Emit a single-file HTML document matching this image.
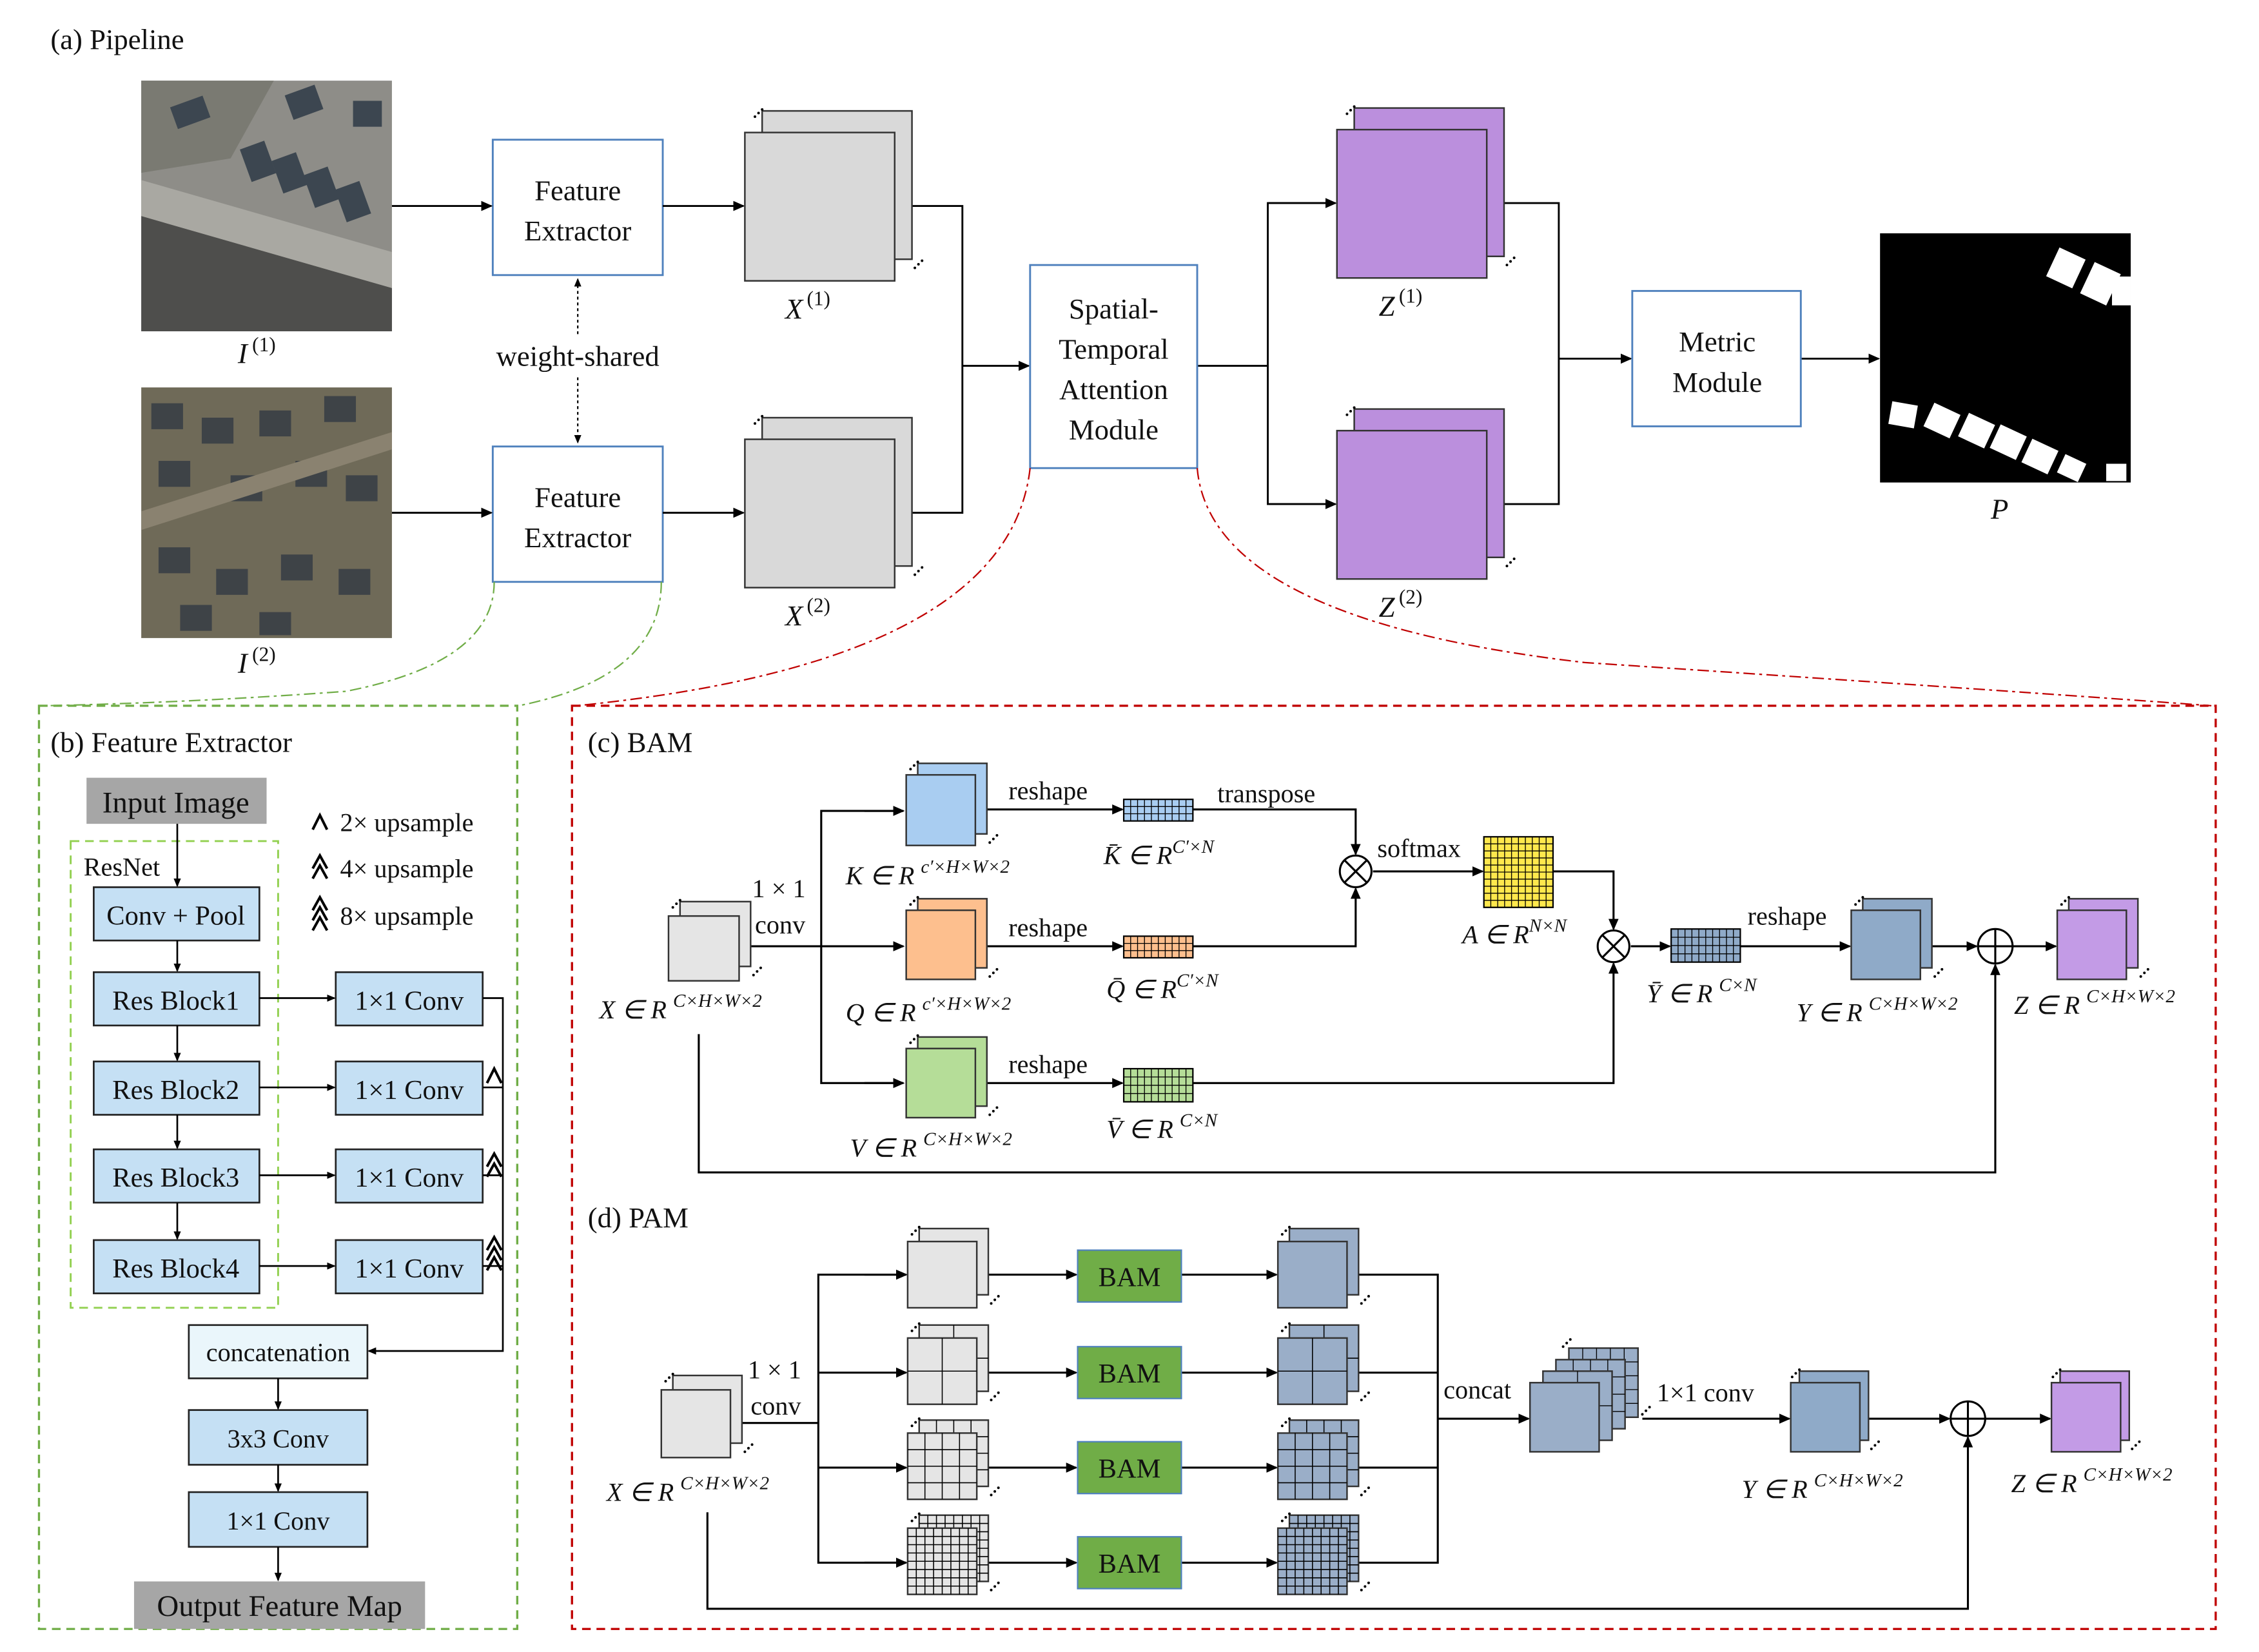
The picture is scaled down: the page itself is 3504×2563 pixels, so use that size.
<!DOCTYPE html>
<html><head><meta charset="utf-8"><style>
html,body{margin:0;padding:0;background:#fff;}
svg{display:block;}
text{font-family:"Liberation Serif",serif;fill:#111;}
.m{font-style:italic;}
</style></head><body>
<svg id="s" width="3504" height="2563" viewBox="0 0 1568 1147" xmlns="http://www.w3.org/2000/svg">
<defs>
<marker id="ar" markerWidth="8" markerHeight="8" refX="7" refY="4" orient="auto" markerUnits="userSpaceOnUse"><path d="M0,0.5 L8,4 L0,7.5 Z" fill="#000"/></marker>
<marker id="ar2" markerWidth="6" markerHeight="6" refX="5" refY="3" orient="auto-start-reverse" markerUnits="userSpaceOnUse"><path d="M0,0.5 L6,3 L0,5.5 Z" fill="#000"/></marker>
</defs>
<rect width="1568" height="1147" fill="#fff"/>

<!-- (a) -->
<text x="35" y="34" font-size="20">(a) Pipeline</text>
<g>
<rect x="98" y="56" width="174" height="174" fill="#8e8d88"/>
<polygon points="98,150 272,200 272,230 98,230" fill="#4e4e4c"/>
<polygon points="98,125 272,175 272,200 98,150" fill="#a9a8a2"/>
<polygon points="98,56 190,56 160,110 98,120" fill="#7a7a72"/>
<g fill="#3c4650">
<rect x="170" y="100" width="18" height="24" transform="rotate(-20 179 112)"/>
<rect x="192" y="108" width="18" height="24" transform="rotate(-20 201 120)"/>
<rect x="214" y="118" width="18" height="24" transform="rotate(-20 223 130)"/>
<rect x="236" y="128" width="18" height="24" transform="rotate(-20 245 140)"/>
<rect x="200" y="62" width="22" height="18" transform="rotate(-20 211 71)"/>
<rect x="245" y="70" width="20" height="18"/>
<rect x="120" y="70" width="24" height="16" transform="rotate(-20 132 78)"/>
</g>
</g>
<text x="165" y="252" font-size="20" class="m">I</text><text x="175" y="244" font-size="14">(1)</text>
<g>
<rect x="98" y="269" width="174" height="174" fill="#6f6a58"/>
<g fill="#3e4347">
<rect x="105" y="280" width="22" height="18"/><rect x="140" y="290" width="22" height="18"/><rect x="180" y="285" width="22" height="18"/><rect x="225" y="275" width="22" height="18"/>
<rect x="110" y="320" width="22" height="18"/><rect x="160" y="330" width="22" height="18"/><rect x="205" y="320" width="22" height="18"/><rect x="240" y="330" width="22" height="18"/>
<rect x="110" y="380" width="22" height="18"/><rect x="150" y="395" width="22" height="18"/><rect x="195" y="385" width="22" height="18"/><rect x="235" y="395" width="22" height="18"/>
<rect x="125" y="420" width="22" height="18"/><rect x="180" y="425" width="22" height="16"/>
</g>
<polygon points="98,355 272,300 272,312 98,368" fill="#8a8270"/>
</g>
<text x="165" y="467" font-size="20" class="m">I</text><text x="175" y="459" font-size="14">(2)</text>

<rect x="342" y="97" width="118" height="94" fill="#fff" stroke="#4f81bd" stroke-width="1.3"/>
<text x="401" y="139" font-size="20" text-anchor="middle">Feature</text>
<text x="401" y="167" font-size="20" text-anchor="middle">Extractor</text>
<rect x="342" y="310" width="118" height="94" fill="#fff" stroke="#4f81bd" stroke-width="1.3"/>
<text x="401" y="352" font-size="20" text-anchor="middle">Feature</text>
<text x="401" y="380" font-size="20" text-anchor="middle">Extractor</text>
<line x1="401" y1="194" x2="401" y2="232" stroke="#000" stroke-dasharray="2,2" marker-start="url(#ar2)"/>
<line x1="401" y1="262" x2="401" y2="307" stroke="#000" stroke-dasharray="2,2" marker-end="url(#ar2)"/>
<text x="401" y="254" font-size="20" text-anchor="middle">weight-shared</text>
<g stroke="#000" stroke-width="1.3" fill="none">
<line x1="272" y1="143" x2="341" y2="143" marker-end="url(#ar)"/>
<line x1="272" y1="356" x2="341" y2="356" marker-end="url(#ar)"/>
<line x1="460" y1="143" x2="516" y2="143" marker-end="url(#ar)"/>
<line x1="460" y1="356" x2="516" y2="356" marker-end="url(#ar)"/>
<polyline points="632,143 668,143 668,356 632,356"/>
<line x1="668" y1="254" x2="714" y2="254" marker-end="url(#ar)"/>
<line x1="831" y1="254" x2="880" y2="254"/>
<polyline points="926,141 880,141 880,350 926,350"/>
<line x1="880" y1="141" x2="927" y2="141" marker-end="url(#ar)"/>
<line x1="880" y1="350" x2="927" y2="350" marker-end="url(#ar)"/>
<polyline points="1043,141 1082,141 1082,350 1043,350"/>
<line x1="1082" y1="249" x2="1132" y2="249" marker-end="url(#ar)"/>
<line x1="1250" y1="249" x2="1304" y2="249" marker-end="url(#ar)"/>
</g>
<text x="545" y="221" font-size="20" class="m">X</text><text x="560" y="212" font-size="14">(1)</text>
<text x="545" y="434" font-size="20" class="m">X</text><text x="560" y="425" font-size="14">(2)</text>
<text x="957" y="219" font-size="20" class="m">Z</text><text x="971" y="210" font-size="14">(1)</text>
<text x="957" y="428" font-size="20" class="m">Z</text><text x="971" y="419" font-size="14">(2)</text>

<rect x="715" y="184" width="116" height="141" fill="#fff" stroke="#4f81bd" stroke-width="1.3"/>
<text x="773" y="221" font-size="20" text-anchor="middle">Spatial-</text>
<text x="773" y="249" font-size="20" text-anchor="middle">Temporal</text>
<text x="773" y="277" font-size="20" text-anchor="middle">Attention</text>
<text x="773" y="305" font-size="20" text-anchor="middle">Module</text>
<rect x="1133" y="202" width="117" height="94" fill="#fff" stroke="#4f81bd" stroke-width="1.3"/>
<text x="1192" y="244" font-size="20" text-anchor="middle">Metric</text>
<text x="1192" y="272" font-size="20" text-anchor="middle">Module</text>
<rect x="1305" y="162" width="174" height="173" fill="#000"/>
<g fill="#fff">
<rect x="1424" y="175" width="20" height="22" transform="rotate(25 1434 186)"/>
<rect x="1448" y="185" width="20" height="24" transform="rotate(25 1458 197)"/>
<rect x="1466" y="192" width="13" height="20"/>
<rect x="1312" y="280" width="18" height="16" transform="rotate(10 1321 288)"/>
<rect x="1338" y="283" width="20" height="18" transform="rotate(25 1348 292)"/>
<rect x="1362" y="290" width="20" height="18" transform="rotate(25 1372 299)"/>
<rect x="1384" y="298" width="20" height="18" transform="rotate(25 1394 307)"/>
<rect x="1406" y="308" width="20" height="18" transform="rotate(25 1416 317)"/>
<rect x="1430" y="318" width="16" height="14" transform="rotate(25 1438 325)"/>
<rect x="1462" y="322" width="14" height="12"/>
</g>
<text x="1388" y="360" font-size="20" class="m" text-anchor="middle">P</text>

<g fill="none" stroke-width="1" stroke-dasharray="8,3,2,3">
<path d="M343,404 Q343,460 240,480 Q130,488 30,490" stroke="#70ad47"/>
<path d="M459,404 Q459,470 360,490" stroke="#70ad47"/>
<path d="M715,325 Q700,460 400,490" stroke="#c00000"/>
<path d="M831,325 Q840,430 1100,460 Q1400,480 1535,490" stroke="#c00000"/>
</g>

<!-- (b) -->
<rect x="27" y="490" width="332" height="641" fill="none" stroke="#70ad47" stroke-width="1.5" stroke-dasharray="6,4"/>
<text x="35" y="522" font-size="20">(b) Feature Extractor</text>
<rect x="60" y="540" width="125" height="32" fill="#a6a6a6"/>
<text x="122" y="564" font-size="21" text-anchor="middle">Input Image</text>
<rect x="49" y="584" width="144" height="324" fill="none" stroke="#92d050" stroke-width="1.3" stroke-dasharray="6,4"/>
<text x="58" y="608" font-size="18">ResNet</text>
<g stroke="#222" stroke-width="1.2" fill="#c5e0f4">
<rect x="65" y="616" width="115" height="37"/>
<rect x="65" y="675" width="115" height="37"/>
<rect x="65" y="737" width="115" height="37"/>
<rect x="65" y="798" width="115" height="37"/>
<rect x="65" y="861" width="115" height="37"/>
<rect x="233" y="675" width="102" height="37"/>
<rect x="233" y="737" width="102" height="37"/>
<rect x="233" y="798" width="102" height="37"/>
<rect x="233" y="861" width="102" height="37"/>
<rect x="131" y="920" width="124" height="37" fill="#eaf6fb"/>
<rect x="131" y="979" width="124" height="38"/>
<rect x="131" y="1036" width="124" height="38"/>
</g>
<g font-size="19" text-anchor="middle">
<text x="122" y="642">Conv + Pool</text>
<text x="122" y="701">Res Block1</text>
<text x="122" y="763">Res Block2</text>
<text x="122" y="824">Res Block3</text>
<text x="122" y="887">Res Block4</text>
<text x="284" y="701">1×1 Conv</text>
<text x="284" y="763">1×1 Conv</text>
<text x="284" y="824">1×1 Conv</text>
<text x="284" y="887">1×1 Conv</text>
<text x="193" y="945" font-size="18">concatenation</text>
<text x="193" y="1005" font-size="18">3x3 Conv</text>
<text x="193" y="1062" font-size="18">1×1 Conv</text>
</g>
<rect x="93" y="1098" width="202" height="33" fill="#a6a6a6"/>
<text x="194" y="1122" font-size="21" text-anchor="middle">Output Feature Map</text>
<g stroke="#000" stroke-width="1.2" fill="none">
<line x1="123" y1="572" x2="123" y2="615" marker-end="url(#ar2)"/>
<line x1="123" y1="653" x2="123" y2="674" marker-end="url(#ar2)"/>
<line x1="123" y1="712" x2="123" y2="736" marker-end="url(#ar2)"/>
<line x1="123" y1="774" x2="123" y2="797" marker-end="url(#ar2)"/>
<line x1="123" y1="835" x2="123" y2="860" marker-end="url(#ar2)"/>
<line x1="180" y1="693" x2="232" y2="693" marker-end="url(#ar2)"/>
<line x1="180" y1="755" x2="232" y2="755" marker-end="url(#ar2)"/>
<line x1="180" y1="816" x2="232" y2="816" marker-end="url(#ar2)"/>
<line x1="180" y1="879" x2="232" y2="879" marker-end="url(#ar2)"/>
<polyline points="335,693 349,693 349,938 256,938" marker-end="url(#ar2)"/>
<line x1="335" y1="755" x2="349" y2="755"/>
<line x1="335" y1="816" x2="349" y2="816"/>
<line x1="335" y1="879" x2="349" y2="879"/>
<line x1="193" y1="957" x2="193" y2="978" marker-end="url(#ar2)"/>
<line x1="193" y1="1017" x2="193" y2="1035" marker-end="url(#ar2)"/>
<line x1="193" y1="1074" x2="193" y2="1097" marker-end="url(#ar2)"/>
</g>
<g stroke="#000" stroke-width="1.8" fill="none">
<polyline points="217,576 222,566 227,576"/>
<polyline points="217,603 222,594 227,603"/><polyline points="217,610 222,601 227,610"/>
<polyline points="217,632 222,623 227,632"/><polyline points="217,639 222,630 227,639"/><polyline points="217,646 222,637 227,646"/>
<polyline points="338,752 343,742 348,752"/>
<polyline points="338,810 343,801 348,810"/><polyline points="338,817 343,808 348,817"/>
<polyline points="338,868 343,859 348,868"/><polyline points="338,875 343,866 348,875"/><polyline points="338,882 343,873 348,882"/>
</g>
<g font-size="18"><text x="236" y="577">2× upsample</text><text x="236" y="609">4× upsample</text><text x="236" y="642">8× upsample</text></g>

<!-- (c) -->
<rect x="397" y="490" width="1141" height="641" fill="none" stroke="#c00000" stroke-width="1.5" stroke-dasharray="6,4"/>
<text x="408" y="522" font-size="20">(c) BAM</text>
<text x="408" y="852" font-size="20">(d) PAM</text>
<g stroke="#000" stroke-width="1.4" fill="none">
<line x1="520" y1="657" x2="627" y2="657" marker-end="url(#ar)"/>
<polyline points="627,563 570,563 570,752 627,752"/>
<line x1="600" y1="563" x2="627" y2="563" marker-end="url(#ar)"/>
<line x1="600" y1="752" x2="627" y2="752" marker-end="url(#ar)"/>
<line x1="683" y1="562" x2="779" y2="562" marker-end="url(#ar)"/>
<line x1="683" y1="657" x2="779" y2="657" marker-end="url(#ar)"/>
<line x1="683" y1="752" x2="779" y2="752" marker-end="url(#ar)"/>
<polyline points="828,562 941,562 941,593" marker-end="url(#ar)"/>
<polyline points="828,657 941,657 941,617" marker-end="url(#ar)"/>
<line x1="953" y1="605" x2="1029" y2="605" marker-end="url(#ar)"/>
<polyline points="1078,605 1120,605 1120,645" marker-end="url(#ar)"/>
<polyline points="828,752 1120,752 1120,669" marker-end="url(#ar)"/>
<line x1="1132" y1="657" x2="1159" y2="657" marker-end="url(#ar)"/>
<line x1="1208" y1="657" x2="1284" y2="657" marker-end="url(#ar)"/>
<line x1="1340" y1="657" x2="1372" y2="657" marker-end="url(#ar)"/>
<line x1="1397" y1="657" x2="1427" y2="657" marker-end="url(#ar)"/>
<polyline points="485,718 485,814 1385,814 1385,670" marker-end="url(#ar)"/>
<circle cx="941" cy="605" r="11"/><line x1="933" y1="597" x2="949" y2="613"/><line x1="949" y1="597" x2="933" y2="613"/>
<circle cx="1120" cy="657" r="11"/><line x1="1112" y1="649" x2="1128" y2="665"/><line x1="1128" y1="649" x2="1112" y2="665"/>
<circle cx="1385" cy="657" r="12"/><line x1="1373" y1="657" x2="1397" y2="657"/><line x1="1385" y1="645" x2="1385" y2="669"/>
</g>
<g font-size="18">
<text x="522" y="623">1 × 1</text><text x="524" y="648">conv</text>
<text x="700" y="555">reshape</text><text x="700" y="650">reshape</text><text x="700" y="745">reshape</text>
<text x="845" y="557">transpose</text><text x="956" y="595">softmax</text><text x="1213" y="642">reshape</text>
</g>
<g font-size="18" class="m">
<text x="416" y="707">X ∈ R <tspan font-size="13" dy="-8">C×H×W×2</tspan></text>
<text x="587" y="614">K ∈ R <tspan font-size="13" dy="-8">c′×H×W×2</tspan></text>
<text x="587" y="709">Q ∈ R <tspan font-size="13" dy="-8">c′×H×W×2</tspan></text>
<text x="590" y="803">V ∈ R <tspan font-size="13" dy="-8">C×H×W×2</tspan></text>
<text x="766" y="600">K̄ ∈ R<tspan font-size="13" dy="-8">C′×N</tspan></text>
<text x="768" y="693">Q̄ ∈ R<tspan font-size="13" dy="-8">C′×N</tspan></text>
<text x="768" y="790">V̄ ∈ R <tspan font-size="13" dy="-8">C×N</tspan></text>
<text x="1015" y="655">A ∈ R<tspan font-size="13" dy="-8">N×N</tspan></text>
<text x="1143" y="696">Ȳ ∈ R <tspan font-size="13" dy="-8">C×N</tspan></text>
<text x="1247" y="709">Y ∈ R <tspan font-size="13" dy="-8">C×H×W×2</tspan></text>
<text x="1398" y="704">Z ∈ R <tspan font-size="13" dy="-8">C×H×W×2</tspan></text>
<text x="421" y="1042">X ∈ R <tspan font-size="13" dy="-8">C×H×W×2</tspan></text>
<text x="1209" y="1040">Y ∈ R <tspan font-size="13" dy="-8">C×H×W×2</tspan></text>
<text x="1396" y="1036">Z ∈ R <tspan font-size="13" dy="-8">C×H×W×2</tspan></text>
</g>

<!-- (d) -->
<g stroke="#000" stroke-width="1.4" fill="none">
<line x1="515" y1="988" x2="568" y2="988"/>
<polyline points="629,885 568,885 568,1085 629,1085"/>
<line x1="600" y1="885" x2="629" y2="885" marker-end="url(#ar)"/>
<line x1="568" y1="953" x2="629" y2="953" marker-end="url(#ar)"/>
<line x1="568" y1="1019" x2="629" y2="1019" marker-end="url(#ar)"/>
<line x1="600" y1="1085" x2="629" y2="1085" marker-end="url(#ar)"/>
<line x1="686" y1="885" x2="747" y2="885" marker-end="url(#ar)"/>
<line x1="686" y1="953" x2="747" y2="953" marker-end="url(#ar)"/>
<line x1="686" y1="1019" x2="747" y2="1019" marker-end="url(#ar)"/>
<line x1="686" y1="1085" x2="747" y2="1085" marker-end="url(#ar)"/>
<line x1="820" y1="885" x2="886" y2="885" marker-end="url(#ar)"/>
<line x1="820" y1="953" x2="886" y2="953" marker-end="url(#ar)"/>
<line x1="820" y1="1019" x2="886" y2="1019" marker-end="url(#ar)"/>
<line x1="820" y1="1085" x2="886" y2="1085" marker-end="url(#ar)"/>
<polyline points="943,885 998,885 998,1085 943,1085"/>
<line x1="943" y1="953" x2="998" y2="953"/><line x1="943" y1="1019" x2="998" y2="1019"/>
<line x1="998" y1="985" x2="1061" y2="985" marker-end="url(#ar)"/>
<line x1="1140" y1="985" x2="1242" y2="985" marker-end="url(#ar)"/>
<line x1="1297" y1="985" x2="1353" y2="985" marker-end="url(#ar)"/>
<line x1="1378" y1="985" x2="1423" y2="985" marker-end="url(#ar)"/>
<polyline points="491,1050 491,1117 1366,1117 1366,998" marker-end="url(#ar)"/>
<circle cx="1366" cy="985" r="12"/><line x1="1354" y1="985" x2="1378" y2="985"/><line x1="1366" y1="973" x2="1366" y2="997"/>
</g>
<g stroke="#4f81bd" stroke-width="1" fill="#70ad47">
<rect x="748" y="868" width="72" height="36"/><rect x="748" y="935" width="72" height="36"/>
<rect x="748" y="1001" width="72" height="36"/><rect x="748" y="1067" width="72" height="36"/>
</g>
<g font-size="19" text-anchor="middle">
<text x="784" y="893">BAM</text><text x="784" y="960">BAM</text><text x="784" y="1026">BAM</text><text x="784" y="1092">BAM</text>
</g>
<g font-size="18"><text x="519" y="957">1 × 1</text><text x="521" y="982">conv</text>
<text x="1002" y="971">concat</text><text x="1150" y="973">1×1 conv</text></g>
<g id="gen"></g>
</svg>
<script>
var NS="http://www.w3.org/2000/svg",G=document.getElementById("gen");
function el(t,a,p){var e=document.createElementNS(NS,t);for(var k in a)e.setAttribute(k,a[k]);(p||G).appendChild(e);return e;}
function grid(x,y,w,h,nx,ny,sw){for(var i=1;i<nx;i++)el("line",{x1:x+w*i/nx,y1:y,x2:x+w*i/nx,y2:y+h,stroke:"#000","stroke-width":sw||0.6});for(var j=1;j<ny;j++)el("line",{x1:x,y1:y+h*j/ny,x2:x+w,y2:y+h*j/ny,stroke:"#000","stroke-width":sw||0.6});}
function dots(x,y,d){for(var i=0;i<3;i++)el("circle",{cx:x+i*d,cy:y-i*d,r:0.9,fill:"#000"});}
function stack(x,y,w,h,ox,oy,fill,n,g,layers){layers=layers||2;
 for(var L=layers-1;L>=0;L--){var xx=x+ox*L,yy=y-oy*L;
  el("rect",{x:xx,y:yy,width:w,height:h,fill:fill,stroke:"#333","stroke-width":1.1});
  if(n)grid(xx,yy,w,h,n,n,0.7);}
 var bx=x+ox*(layers-1),by=y-oy*(layers-1);
 dots(bx-5,by+4,2.5);dots(bx+w+2,by+h+6,2.5);}
stack(517,92,104,103,12,15,"#d9d9d9");
stack(517,305,104,103,12,15,"#d9d9d9");
stack(928,90,104,103,12,15,"#bb8fdd");
stack(928,299,104,103,12,15,"#bb8fdd");
stack(464,636,49,45,8,10,"#e5e5e5");
stack(629,538,48,49,8,8,"#a9cdf1");
stack(629,632,48,48,8,8,"#fdbf8e");
stack(629,728,48,48,8,8,"#b5dd98");
stack(1285,632,48,48,8,8,"#8faac8");
stack(1428,632,48,48,8,8,"#c39be6");
function gbar(x,y,w,h,fill,nx,ny){el("rect",{x:x,y:y,width:w,height:h,fill:fill,stroke:"#000","stroke-width":1});grid(x,y,w,h,nx,ny,0.6);}
gbar(780,555,48,15,"#a9cdf1",10,3);
gbar(780,650,48,15,"#fdbf8e",10,3);
gbar(780,742,48,23,"#b5dd98",10,4);
gbar(1030,581,48,49,"#ffe84d",10,10);
gbar(1160,645,48,23,"#8faac8",10,4);
stack(459,965,48,47,8,10,"#e5e5e5");
var ys=[862,929,995,1061],ns=[0,2,4,8];
for(var i=0;i<4;i++){stack(630,ys[i],48,46,8,9,"#e5e5e5",ns[i]);stack(887,ys[i],48,46,8,9,"#9aaec8",ns[i]);}
for(var L=3;L>=0;L--){var xx=1062+L*9,yy=960-L*8;el("rect",{x:xx,y:yy,width:48,height:48,fill:"#9aaec8",stroke:"#333","stroke-width":1.1});if(L>0)grid(xx,yy,48,48,L==3?5:(L==2?4:2),L==3?5:(L==2?4:2),0.6);}
dots(1085,935,2.5);dots(1140,982,2.5);
stack(1243,960,48,48,6,8,"#8faac8");
stack(1424,960,48,48,6,8,"#c39be6");
</script>
</body></html>
